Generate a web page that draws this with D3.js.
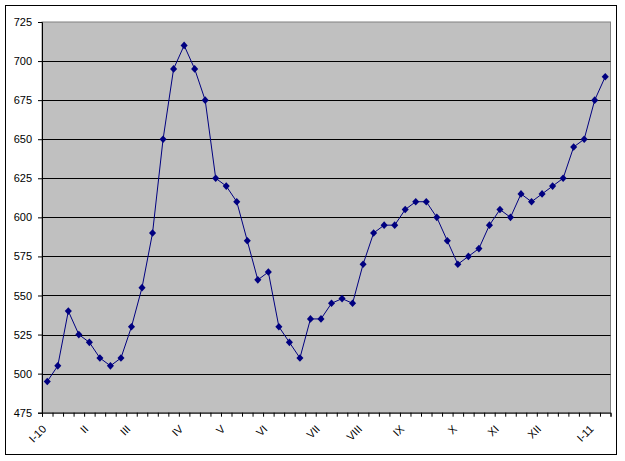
<!DOCTYPE html>
<html>
  <head>
    <meta http-equiv="Content-Type" content="text/html;charset=utf-8"/>
    <title>Weekly series</title>
    <script src="https://d3js.org/d3.v7.min.js"></script>
    <style>
      body { margin: 0; background: #fff; }
      text { font-family: Arial, "Liberation Sans", sans-serif; font-size: 11px; fill: #000; }
    </style>
  </head>
  <body>
    <div id="content"></div>
    <script type="text/javascript">

        // weekly values, Jan 2010 - Jan 2011
        const values = [
            495, 505, 540, 525, 520, 510, 505, 510, 530, 555,
            590, 650, 695, 710, 695, 675, 625, 620, 610, 585,
            560, 565, 530, 520, 510, 535, 535, 545, 548, 545,
            570, 590, 595, 595, 605, 610, 610, 600, 585, 570,
            575, 580, 595, 605, 600, 615, 610, 615, 620, 625,
            645, 650, 675, 690
        ]

        // month labels and the week (category index) they sit on
        const monthLabels = ['I-10', 'II', 'III', 'IV', 'V', 'VI', 'VII', 'VIII', 'IX', 'X', 'XI', 'XII', 'I-11']
        const monthWeeks = [0, 4, 8, 13, 17, 21, 26, 30, 34, 39, 43, 47, 52]

        const yTicks = [475, 500, 525, 550, 575, 600, 625, 650, 675, 700, 725]

        const width = 625,
            height = 461,
            plotLeft = 42,
            plotRight = 610.5,
            plotTop = 22,
            plotBottom = 412.7

        const svg = d3.select('#content').append('svg')
            .attr('width', width)
            .attr('height', height)

        // chart area border
        svg.append('rect')
            .attr('x', 5.5).attr('y', 5.5)
            .attr('width', 611).attr('height', 449)
            .attr('fill', '#fff')
            .attr('stroke', '#000')

        const xScale = d3.scaleLinear()
            .domain([0, values.length])
            .range([plotLeft, plotRight])

        const yScale = d3.scaleLinear()
            .domain([475, 725])
            .range([plotBottom, plotTop])

        // plot area
        svg.append('rect')
            .attr('x', plotLeft).attr('y', plotTop)
            .attr('width', plotRight - plotLeft).attr('height', plotBottom - plotTop)
            .attr('fill', '#c0c0c0')
            .attr('stroke', '#808080')

        // gridlines
        svg.append('g')
            .selectAll('line')
            .data(yTicks.slice(1, -1))
            .enter()
            .append('line')
            .attr('x1', plotLeft).attr('x2', plotRight)
            .attr('y1', d => Math.round(yScale(d)) + 0.5)
            .attr('y2', d => Math.round(yScale(d)) + 0.5)
            .attr('stroke', '#000')

        const yAxis = d3.axisLeft(yScale)
            .tickValues(yTicks)
            .tickSize(4)
            .tickPadding(6)
            .tickFormat(d3.format('d'))

        const yG = svg.append('g')
            .attr('transform', 'translate(' + plotLeft + ',0)')
            .call(yAxis)
        yG.selectAll('text').style('font-size', '11px')
        yG.select('.domain').attr('stroke', '#000')

        const xAxis = d3.axisBottom(xScale)
            .tickValues(d3.range(values.length + 1))
            .tickSize(4)
            .tickFormat('')

        svg.append('g')
            .attr('transform', 'translate(0,' + plotBottom + ')')
            .call(xAxis)

        // rotated month labels
        svg.append('g')
            .selectAll('text')
            .data(monthLabels)
            .enter()
            .append('text')
            .attr('transform', (d, i) => 'translate(' + (xScale(monthWeeks[i] + 0.5) - 3) + ',427) rotate(-45)')
            .attr('text-anchor', 'end')
            .attr('dy', '0.35em')
            .text(d => d)

        const line = d3.line()
            .x((d, i) => xScale(i + 0.5))
            .y(d => yScale(d))

        svg.append('path')
            .datum(values)
            .attr('fill', 'none')
            .attr('stroke', '#000080')
            .attr('stroke-width', 1)
            .attr('d', line)

        // diamond markers
        svg.append('g')
            .selectAll('path')
            .data(values)
            .enter()
            .append('path')
            .attr('d', d3.symbol(d3.symbolSquare, 25))
            .attr('transform', (d, i) => 'translate(' + xScale(i + 0.5) + ',' + yScale(d) + ') scale(1,1.08) rotate(45)')
            .attr('fill', '#000080')

    </script>
  </body>
</html>
